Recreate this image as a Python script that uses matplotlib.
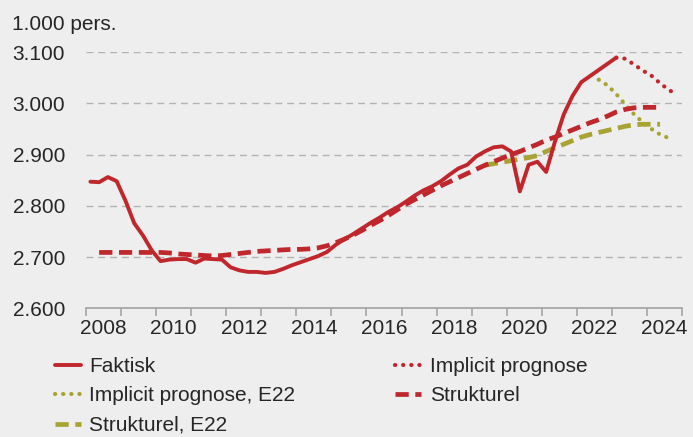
import matplotlib
matplotlib.use("Agg")
import matplotlib.pyplot as plt
import numpy as np
import pandas as pd

# ---------------- data (quarterly, 1.000 persons) ----------------
faktisk_start = "2008Q1"
faktisk = [2847, 2846, 2856, 2848,
           2810, 2766, 2742, 2713,
           2692, 2695, 2696, 2696,
           2689, 2697, 2696, 2695,
           2680, 2674, 2671, 2671,
           2669, 2671, 2677, 2684,
           2690, 2696, 2702, 2710,
           2724, 2735, 2745, 2756,
           2767, 2777, 2788, 2797,
           2808, 2820, 2830, 2838,
           2848, 2861, 2873, 2880,
           2896, 2906, 2914, 2916,
           2906, 2828, 2880, 2886,
           2866, 2925, 2978, 3014,
           3041, 3053, 3065, 3077,
           3089]

implicit_start = "2023Q1"
implicit = [3089, 3087, 3076, 3064, 3054, 3039, 3026, 3016]

implicit_e22_start = "2022Q3"
implicit_e22 = [3046, 3035, 3018, 2998, 2979, 2963, 2950, 2939, 2932]

strukturel_start = "2008Q2"
strukturel = [2709, 2709, 2709,
              2709, 2709, 2709, 2709,
              2709, 2708, 2706, 2705,
              2704, 2703, 2702, 2703,
              2705, 2707, 2709, 2711,
              2712, 2713, 2714, 2715,
              2715, 2716, 2718, 2722,
              2728, 2735, 2743, 2752,
              2762, 2771, 2781, 2792,
              2803, 2812, 2821, 2830,
              2839, 2847, 2855, 2863,
              2871, 2879, 2886, 2893,
              2900, 2906, 2913, 2920,
              2928, 2934, 2941, 2948,
              2955, 2962, 2968, 2975,
              2983, 2988, 2991, 2992,
              2992, 2992]

strukturel_e22_start = "2019Q2"
strukturel_e22 = [2879, 2882, 2885,
                  2888, 2891, 2894, 2898,
                  2906, 2913, 2920, 2927,
                  2934, 2939, 2943, 2947,
                  2951, 2955, 2958, 2959,
                  2959, 2959]

labels = ["Faktisk", "Implicit prognose", "Implicit prognose, E22",
          "Strukturel", "Strukturel, E22"]
yticks = [2600, 2700, 2800, 2900, 3000, 3100]
year_labels = list(range(2008, 2025, 2))


def qpos(start, n):
    p = pd.period_range(start=start, periods=n, freq="Q")
    return p.year + (p.quarter - 1) / 4 + 0.125


RED = "#c0272d"
OLIVE = "#a9a334"
BG = "#eeeeee"
GRID = "#b3b3b3"
TXT = "#262626"

plt.rcParams["font.family"] = ["Liberation Sans", "DejaVu Sans"]

fig = plt.figure(figsize=(6.93, 4.37), dpi=100, facecolor=BG)
ax = fig.add_axes([86 / 693, 1 - 308.3 / 437, (682 - 86) / 693, (308.3 - 52) / 437])
ax.set_facecolor(BG)

lw_solid = 2.8
lw_dash = 3.4
lw_dot = 3.0

h_se, = ax.plot(qpos(strukturel_e22_start, len(strukturel_e22)), strukturel_e22,
                color=OLIVE, lw=lw_dash, dashes=(2.8, 1.4), dash_capstyle="butt",
                label=labels[4])
h_ie, = ax.plot(qpos(implicit_e22_start, len(implicit_e22)), implicit_e22,
                color=OLIVE, lw=lw_dot, dashes=(0.05, 1.9), dash_capstyle="round",
                label=labels[2])
h_s, = ax.plot(qpos(strukturel_start, len(strukturel)), strukturel,
               color=RED, lw=lw_dash, dashes=(2.8, 1.4), dash_capstyle="butt",
               label=labels[3])
h_i, = ax.plot(qpos(implicit_start, len(implicit)), implicit,
               color=RED, lw=lw_dot, dashes=(0.05, 1.9), dash_capstyle="round",
               label=labels[1])
h_f, = ax.plot(qpos(faktisk_start, len(faktisk)), faktisk,
               color=RED, lw=lw_solid, solid_capstyle="round", solid_joinstyle="round",
               label=labels[0])

ax.set_xlim(2008, 2025)
ax.set_ylim(2600, 3100)

for s in ["top", "right", "left"]:
    ax.spines[s].set_visible(False)
ax.spines["bottom"].set_color("#a6a6a6")
ax.spines["bottom"].set_linewidth(1.3)

ax.set_yticks(yticks)
ax.set_yticklabels([f"{v:,}".replace(",", ".") for v in yticks])
ax.tick_params(axis="y", length=0, pad=15, labelsize=15, labelcolor=TXT)
for v in yticks[1:]:
    ax.axhline(v, color=GRID, lw=1.0, dashes=(5, 3.5), zorder=0)

ax.set_xticks(np.arange(2008, 2026))
ax.set_xticklabels([])
ax.tick_params(axis="x", which="major", length=6, width=1.2, color="#a6a6a6", direction="out")
ax.set_xticks([y + 0.5 for y in year_labels], minor=True)
ax.set_xticklabels([str(y) for y in year_labels], minor=True)
ax.tick_params(axis="x", which="minor", length=0, pad=8, labelsize=15, labelcolor=TXT)

fig.text(12 / 693, 1 - 30 / 437, "1.000 pers.", fontsize=15, color=TXT,
         ha="left", va="baseline")

handles = [h_f, h_ie, h_se, h_i, h_s]
leg = fig.legend(handles=handles, labels=[h.get_label() for h in handles],
                 ncol=2, loc="upper left", bbox_to_anchor=(55 / 693, 1 - 357 / 437),
                 frameon=False, fontsize=15, handlelength=1.25, handletextpad=0.4,
                 columnspacing=4.8, labelspacing=0.5, borderpad=0, borderaxespad=0)
for t in leg.get_texts():
    t.set_color(TXT)

fig.savefig("out.png", dpi=100, facecolor=BG)
